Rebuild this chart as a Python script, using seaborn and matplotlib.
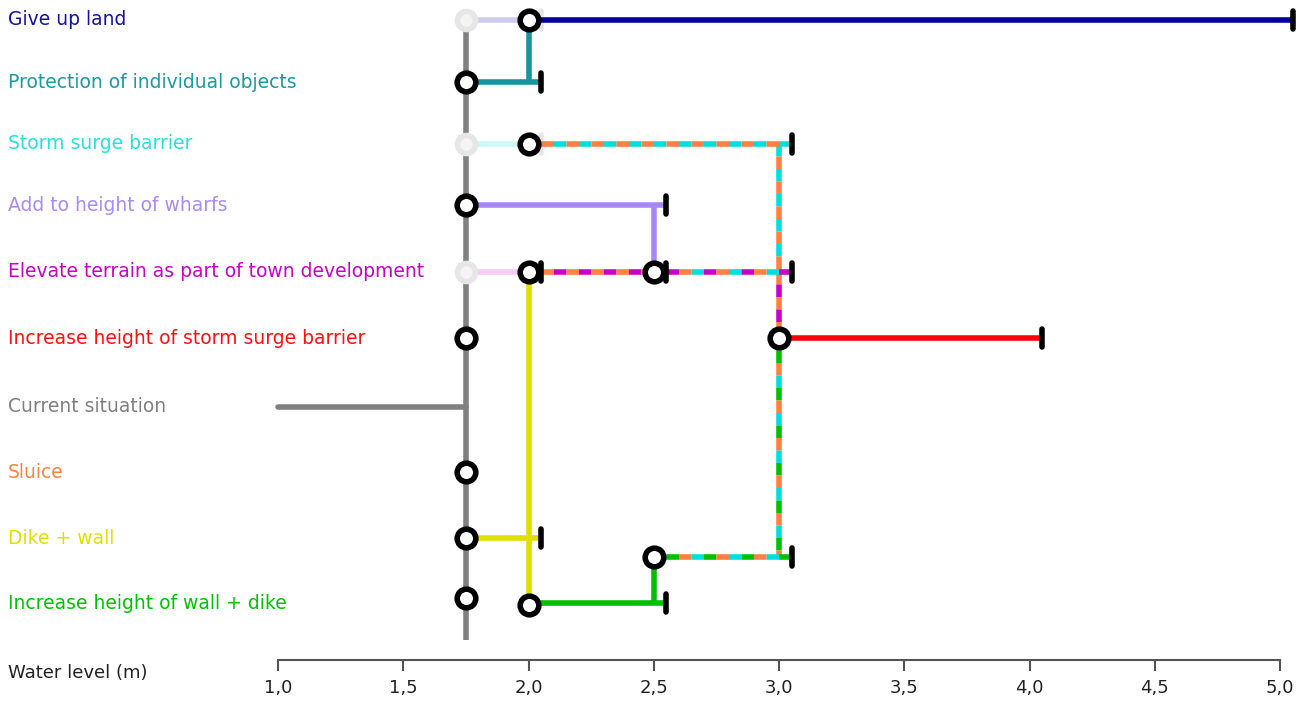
import matplotlib
matplotlib.use("Agg")
import matplotlib.pyplot as plt
import matplotlib.transforms as mtransforms
from matplotlib.markers import MarkerStyle
import seaborn as sns

# Actions (rows, top to bottom) and their label colours.
actions = ['Give up land', 'Protection of individual objects', 'Storm surge barrier',
           'Add to height of wharfs', 'Elevate terrain as part of town development',
           'Increase height of storm surge barrier', 'Current situation', 'Sluice',
           'Dike + wall', 'Increase height of wall + dike']
label_colors = ['#1414A0', '#1A9AA2', '#22E2E2', '#A98AF7', '#CC00CC',
                '#FF1010', '#808080', '#FF8040', '#E0E000', '#00C400']

# Line colours keyed by action.
line_colors = {'land': '#0000A0', 'objects': '#16959E', 'barrier': '#00DDDD',
               'wharfs': '#A787F8', 'terrain': '#C800C8', 'barrier+': '#FF0000',
               'current': '#808080', 'sluice': '#FF8040', 'dike': '#E0E000',
               'wall+': '#00C000'}

# Row positions (in row units) plus the second step of wall + dike.
row_y = [0, 0.96, 1.91, 2.86, 3.89, 4.91, 5.97, 6.98, 8.0, 9.0]
wall_step2_y = 8.29

# Horizontal pathway segments: water level from/to, row position, colours.
h_from = [2.0, 1.75, 2.0, 1.75, 2.0, 2.5, 3.0, 1.0, 1.75, 2.0, 2.5]
h_to = [5.05, 2.05, 3.05, 2.55, 2.5, 3.05, 4.05, 1.75, 2.05, 2.55, 3.05]
h_y = [row_y[0], row_y[1], row_y[2], row_y[3], row_y[4], row_y[4], row_y[5],
       row_y[6], row_y[8], row_y[9], wall_step2_y]
h_cols = [['land'], ['objects'], ['barrier', 'sluice'], ['wharfs'],
          ['terrain', 'sluice'], ['barrier', 'terrain', 'sluice'], ['barrier+'],
          ['current'], ['dike'], ['wall+'], ['barrier', 'wall+', 'sluice']]

# Vertical transfers: water level, from/to row position, colours.
v_x = [1.75, 2.0, 2.5, 2.0, 3.0, 3.0, 3.0, 2.5]
v_from = [row_y[0], row_y[0], row_y[3], row_y[4], row_y[2], row_y[4], row_y[5], wall_step2_y]
v_to = [9.57, row_y[1], row_y[4], row_y[9], row_y[4], row_y[5], wall_step2_y, row_y[9]]
v_cols = [['current'], ['objects'], ['wharfs'], ['dike'], ['barrier', 'sluice'],
          ['sluice', 'terrain'], ['barrier', 'wall+', 'sluice'], ['wall+']]

# Faded options at the current level (rows 0, 2, 4).
ghost_rows = [0, 2, 4]
ghost_keys = ['land', 'barrier', 'terrain']

# Transfer stations (circles) and tipping points (end ticks).
node_x = [2.0, 1.75, 2.0, 1.75, 2.0, 2.5, 1.75, 3.0, 1.75, 1.75, 2.5, 1.75, 2.0]
node_y = [row_y[0], row_y[1], row_y[2], row_y[3], row_y[4], row_y[4], row_y[5],
          row_y[5], row_y[7], row_y[8], wall_step2_y, row_y[9] - 0.07, row_y[9] + 0.03]
tip_x = [5.05, 2.05, 3.05, 2.55, 2.05, 2.55, 3.05, 4.05, 2.05, 2.55, 3.05]
tip_y = [row_y[0], row_y[1], row_y[2], row_y[3], row_y[4], row_y[4], row_y[4],
         row_y[5], row_y[8], row_y[9], wall_step2_y]

x_ticks = [1.0, 1.5, 2.0, 2.5, 3.0, 3.5, 4.0, 4.5, 5.0]

LW = 4.0
DASH = 9.0  # points per colour chunk


def multi_line(ax, xs, ys, keys, z=2):
    n = len(keys)
    for i, k in enumerate(keys):
        if n == 1:
            ls = '-'
        else:
            ls = ((n - i) % n * DASH, (DASH, (n - 1) * DASH))
        ax.plot(xs, ys, color=line_colors[k], lw=LW, ls=ls,
                solid_capstyle='butt', dash_capstyle='butt', zorder=z)


def main():
    sns.set_theme(style='white')
    plt.rcParams['font.family'] = ['DejaVu Sans']
    plt.rcParams['lines.scale_dashes'] = False

    fig = plt.figure(figsize=(13.06, 7.02), dpi=100)
    ax = fig.add_axes([0, 0, 1, 1])
    ax.set_xlim(1.0 - 278 / 250.5, 5.0 + 26 / 250.5)
    ax.set_ylim(9.0 + 99 / 64.78, -20 / 64.78)

    # Faded options
    for r, k in zip(ghost_rows, ghost_keys):
        ax.plot([1.75, 2.0], [row_y[r], row_y[r]], color=line_colors[k], alpha=0.2,
                lw=LW, solid_capstyle='butt', zorder=1)
        ax.plot([2.05], [row_y[r]], marker=MarkerStyle('|', capstyle='round'),
                ms=13, mew=4, color='#E6E6E6', zorder=1)

    # Current situation stem
    ax.plot([1.0, 1.75], [row_y[6], row_y[6]], color=line_colors['current'], lw=LW,
            solid_capstyle='round', zorder=2)

    for x, y0, y1, keys in zip(v_x, v_from, v_to, v_cols):
        multi_line(ax, [x, x], [y0, y1], keys)
    for x0, x1, y, keys in zip(h_from, h_to, h_y, h_cols):
        if keys == ['current']:
            continue
        multi_line(ax, [x0, x1], [y, y], keys, z=3)

    # Tipping points
    ax.plot(tip_x, tip_y, ls='none', marker=MarkerStyle('|', capstyle='round'),
            ms=13, mew=4, color='black', zorder=4)

    # Ghost circles and transfer stations
    ax.plot([1.75] * len(ghost_rows), [row_y[r] for r in ghost_rows], ls='none',
            marker='o', ms=13, mew=4, mec='#E6E6E6', mfc='#F4F4F4', zorder=2.5)
    sns.scatterplot(x=node_x, y=node_y, ax=ax, marker='o', s=180, linewidth=4,
                    edgecolor='black', facecolor='white', zorder=5, legend=False)

    # Action labels
    trans = mtransforms.blended_transform_factory(ax.transAxes, ax.transData)
    for name, y, c in zip(actions, row_y, label_colors):
        ax.text(8 / 1306, y, name, color=c, fontsize=13.5, ha='left', va='center',
                transform=trans)

    # Water level axis
    for s in ['top', 'left', 'right']:
        ax.spines[s].set_visible(False)
    ax.spines['bottom'].set_position(('data', 9.88))
    ax.spines['bottom'].set_bounds(1.0, 5.0)
    ax.spines['bottom'].set_color('#555555')
    ax.spines['bottom'].set_linewidth(1.5)
    ax.set_xticks(x_ticks)
    ax.set_xticklabels([f'{v:.1f}'.replace('.', ',') for v in x_ticks])
    ax.tick_params(axis='x', bottom=True, direction='out', length=8, width=1.5,
                   color='#555555', labelsize=13, labelcolor='#222222', pad=6)
    ax.set_yticks([])
    ax.text(8 / 1306, 9.0 + 70 / 64.78, 'Water level (m)', fontsize=13,
            color='#222222', ha='left', va='center', transform=trans)

    fig.savefig('out.png', dpi=100)


if __name__ == '__main__':
    main()
